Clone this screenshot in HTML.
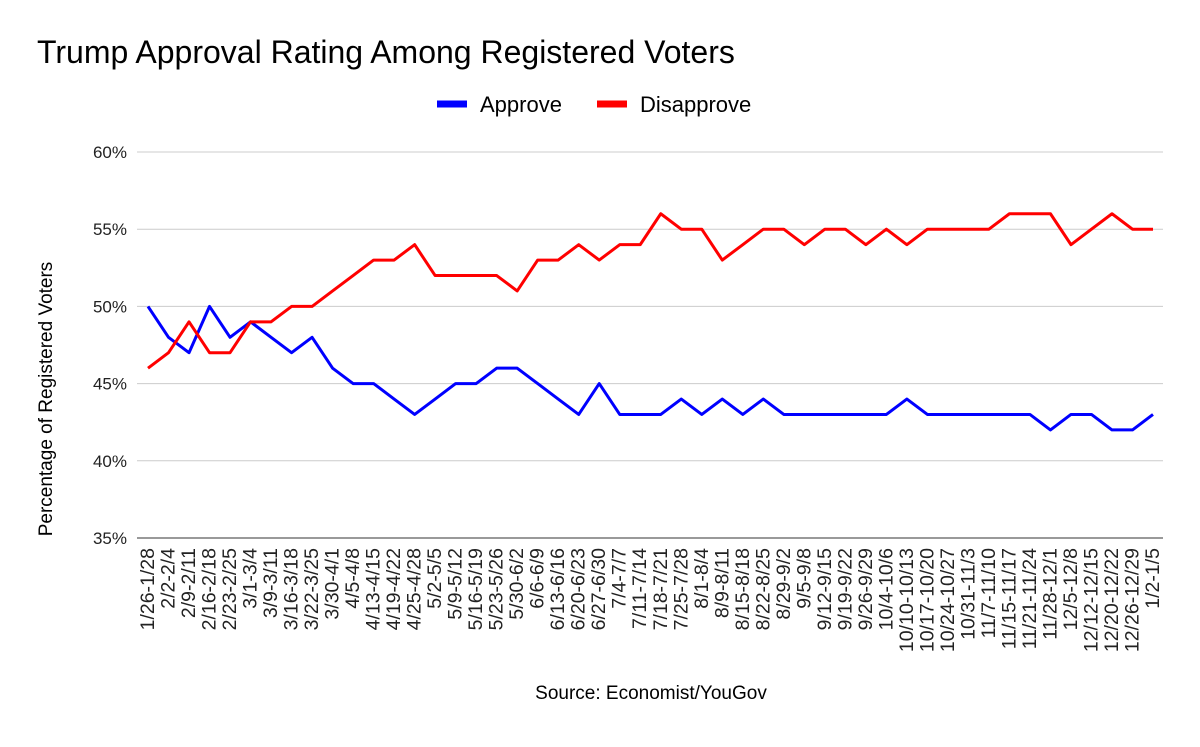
<!DOCTYPE html>
<html><head><meta charset="utf-8"><style>
body{margin:0;background:#fff;font-family:"Liberation Sans",Arial,sans-serif}
svg text{font-family:"Liberation Sans",Arial,sans-serif}
</style></head><body>
<svg id="c" width="1200" height="742" xmlns="http://www.w3.org/2000/svg">
<rect width="1200" height="742" fill="#fff"/>
<text x="37" y="63" font-size="32" fill="#000">Trump Approval Rating Among Registered Voters</text>
<g>
<g><line x1="437" y1="104" x2="467" y2="104" stroke="#0000ff" stroke-width="7"/><text x="480" y="112" font-size="22">Approve</text></g>
<g><line x1="597" y1="104" x2="627" y2="104" stroke="#ff0000" stroke-width="7"/><text x="640" y="112" font-size="22">Disapprove</text></g>
</g>
<text transform="translate(52,399) rotate(-90)" text-anchor="middle" font-size="19">Percentage of Registered Voters</text>
<text x="651" y="699" text-anchor="middle" font-size="19">Source: Economist/YouGov</text>
<g id="grid"></g><g id="xl"></g><g id="lines"></g>
</svg>
<script>
const categories=["1/26-1/28","2/2-2/4","2/9-2/11","2/16-2/18","2/23-2/25","3/1-3/4","3/9-3/11","3/16-3/18","3/22-3/25","3/30-4/1","4/5-4/8","4/13-4/15","4/19-4/22","4/25-4/28","5/2-5/5","5/9-5/12","5/16-5/19","5/23-5/26","5/30-6/2","6/6-6/9","6/13-6/16","6/20-6/23","6/27-6/30","7/4-7/7","7/11-7/14","7/18-7/21","7/25-7/28","8/1-8/4","8/9-8/11","8/15-8/18","8/22-8/25","8/29-9/2","9/5-9/8","9/12-9/15","9/19-9/22","9/26-9/29","10/4-10/6","10/10-10/13","10/17-10/20","10/24-10/27","10/31-11/3","11/7-11/10","11/15-11/17","11/21-11/24","11/28-12/1","12/5-12/8","12/12-12/15","12/20-12/22","12/26-12/29","1/2-1/5"];
const approve=[50,48,47,50,48,49,48,47,48,46,45,45,44,43,44,45,45,46,46,45,44,43,45,43,43,43,44,43,44,43,44,43,43,43,43,43,43,44,43,43,43,43,43,43,42,43,43,42,42,43];
const disapprove=[46,47,49,47,47,49,49,50,50,51,52,53,53,54,52,52,52,52,51,53,53,54,53,54,54,56,55,55,53,54,55,55,54,55,55,54,55,54,55,55,55,55,56,56,56,54,55,56,55,55];
const yTicks=[35,40,45,50,55,60];
const NS="http://www.w3.org/2000/svg";
const X0=148,X1=1153,Ytop=152,Ybot=538,ymin=35,ymax=60;
const xs=i=>X0+(X1-X0)*i/(categories.length-1);
const ys=v=>Ybot-(v-ymin)/(ymax-ymin)*(Ybot-Ytop);
function mk(t,a,p){const e=document.createElementNS(NS,t);for(const k in a)e.setAttribute(k,a[k]);p.appendChild(e);return e;}
const grid=document.getElementById('grid');
yTicks.forEach(v=>{
 const l=mk('line',{x1:137,x2:1163,y1:ys(v),y2:ys(v),stroke:v===35?'#333':'#ccc','stroke-width':1},grid);
 
 
 const t=mk('text',{x:127,y:ys(v)+6,'text-anchor':'end','font-size':17,fill:'#222'},grid);
 t.textContent=v+'%';
 
 
});
const xl=document.getElementById('xl');
categories.forEach((c,i)=>{
 const t=mk('text',{transform:`translate(${xs(i)+6},548) rotate(-90)`,'text-anchor':'end','font-size':19.5,fill:'#222'},xl);
 t.textContent=c;
 
 
});
const lines=document.getElementById('lines');
[[approve,'#0000ff','approve-line'],[disapprove,'#ff0000','disapprove-line']].forEach(([d,col,n])=>{
 const p=mk('polyline',{points:d.map((v,i)=>xs(i)+','+ys(v)).join(' '),fill:'none',stroke:col,'stroke-width':3,'stroke-linejoin':'round'},lines);
 
 
});
</script>
</body></html>
